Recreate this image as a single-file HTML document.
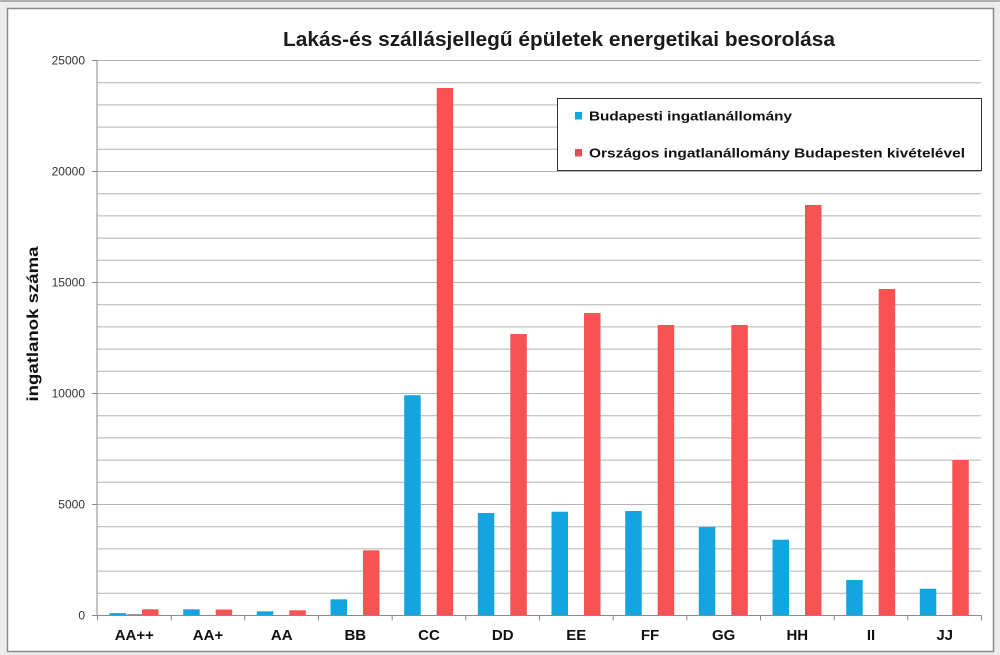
<!DOCTYPE html>
<html>
<head>
<meta charset="utf-8">
<style>
html,body{margin:0;padding:0;background:#fff;}
body{width:1000px;height:655px;overflow:hidden;}
svg{display:block;}
</style>
</head>
<body>
<svg width="1000" height="655" viewBox="0 0 1000 655" xmlns="http://www.w3.org/2000/svg">
  <!-- outer background -->
  <rect x="0" y="0" width="1000" height="655" fill="#ececec"/>
  <rect x="0" y="0" width="1000" height="2" fill="#b0b0b0"/>
  <!-- chart area -->
  <rect x="7.5" y="8.5" width="986" height="643" fill="#ffffff" stroke="#8a8a8a" stroke-width="1.5"/>

  <!-- title -->
  <text x="559" y="46" text-anchor="middle" font-family="'Liberation Sans', Arial, sans-serif" font-size="20" font-weight="bold" fill="#1a1a1a" textLength="552" lengthAdjust="spacingAndGlyphs">Lakás-és szállásjellegű épületek energetikai besorolása</text>

  <!-- gridlines -->
  <g stroke="#b4b4b4" stroke-width="1">
    <line x1="97" x2="981" y1="60.5" y2="60.5"/>
    <line x1="97" x2="981" y1="82.7" y2="82.7"/>
    <line x1="97" x2="981" y1="104.9" y2="104.9"/>
    <line x1="97" x2="981" y1="127.1" y2="127.1"/>
    <line x1="97" x2="981" y1="149.3" y2="149.3"/>
    <line x1="97" x2="981" y1="171.5" y2="171.5"/>
    <line x1="97" x2="981" y1="193.7" y2="193.7"/>
    <line x1="97" x2="981" y1="215.9" y2="215.9"/>
    <line x1="97" x2="981" y1="238.1" y2="238.1"/>
    <line x1="97" x2="981" y1="260.3" y2="260.3"/>
    <line x1="97" x2="981" y1="282.5" y2="282.5"/>
    <line x1="97" x2="981" y1="304.7" y2="304.7"/>
    <line x1="97" x2="981" y1="326.9" y2="326.9"/>
    <line x1="97" x2="981" y1="349.1" y2="349.1"/>
    <line x1="97" x2="981" y1="371.3" y2="371.3"/>
    <line x1="97" x2="981" y1="393.5" y2="393.5"/>
    <line x1="97" x2="981" y1="415.7" y2="415.7"/>
    <line x1="97" x2="981" y1="437.9" y2="437.9"/>
    <line x1="97" x2="981" y1="460.1" y2="460.1"/>
    <line x1="97" x2="981" y1="482.3" y2="482.3"/>
    <line x1="97" x2="981" y1="504.5" y2="504.5"/>
    <line x1="97" x2="981" y1="526.7" y2="526.7"/>
    <line x1="97" x2="981" y1="548.9" y2="548.9"/>
    <line x1="97" x2="981" y1="571.1" y2="571.1"/>
    <line x1="97" x2="981" y1="593.3" y2="593.3"/>
  </g>

  <!-- y ticks -->
  <g stroke="#8a8a8a" stroke-width="1">
    <line x1="92" x2="97" y1="60.5" y2="60.5"/>
    <line x1="92" x2="97" y1="171.5" y2="171.5"/>
    <line x1="92" x2="97" y1="282.5" y2="282.5"/>
    <line x1="92" x2="97" y1="393.5" y2="393.5"/>
    <line x1="92" x2="97" y1="504.5" y2="504.5"/>
    <line x1="92" x2="97" y1="615.5" y2="615.5"/>
  </g>
  <g font-family="'Liberation Sans', Arial, sans-serif" font-size="12" fill="#333" text-anchor="end">
    <text x="85" y="64.5">25000</text>
    <text x="85" y="175.5">20000</text>
    <text x="85" y="286.5">15000</text>
    <text x="85" y="397.5">10000</text>
    <text x="85" y="508.5">5000</text>
    <text x="85" y="619.5">0</text>
  </g>

  <!-- y axis title -->
  <text transform="translate(38,324) rotate(-90)" text-anchor="middle" font-family="'Liberation Sans', Arial, sans-serif" font-size="16" font-weight="bold" fill="#111" textLength="155" lengthAdjust="spacingAndGlyphs">ingatlanok száma</text>

  <!-- bars: blue -->
  <g fill="#14a4e0">
    <rect x="109.5" y="613.1" width="16.5" height="2.4"/>
    <rect x="183.2" y="609.3" width="16.5" height="6.2"/>
    <rect x="256.8" y="611.3" width="16.5" height="4.2"/>
    <rect x="330.5" y="599.3" width="16.5" height="16.2"/>
    <rect x="404.2" y="395.2" width="16.5" height="220.3"/>
    <rect x="477.8" y="513" width="16.5" height="102.5"/>
    <rect x="551.5" y="511.7" width="16.5" height="103.8"/>
    <rect x="625.2" y="511" width="16.5" height="104.5"/>
    <rect x="698.8" y="527" width="16.5" height="88.5"/>
    <rect x="772.5" y="539.7" width="16.5" height="75.8"/>
    <rect x="846.2" y="580" width="16.5" height="35.5"/>
    <rect x="919.8" y="588.7" width="16.5" height="26.8"/>
  </g>
  <!-- tiny middle mark in AA++ -->
  <rect x="126.5" y="614.3" width="16" height="1.2" fill="#8a6a6a"/>
  <!-- bars: red -->
  <g fill="#f85252">
    <rect x="142" y="609.3" width="16.5" height="6.2"/>
    <rect x="215.7" y="609.5" width="16.5" height="6"/>
    <rect x="289.3" y="610.3" width="16.5" height="5.2"/>
    <rect x="363" y="550.3" width="16.5" height="65.2"/>
    <rect x="436.7" y="88" width="16.5" height="527.5"/>
    <rect x="510.3" y="334" width="16.5" height="281.5"/>
    <rect x="584" y="313" width="16.5" height="302.5"/>
    <rect x="657.7" y="325" width="16.5" height="290.5"/>
    <rect x="731.3" y="325" width="16.5" height="290.5"/>
    <rect x="805" y="205" width="16.5" height="410.5"/>
    <rect x="878.7" y="289" width="16.5" height="326.5"/>
    <rect x="952.3" y="460" width="16.5" height="155.5"/>
  </g>

  <!-- axes -->
  <g stroke="#8a8a8a" stroke-width="1">
    <line x1="97" x2="97" y1="60" y2="615.5"/>
    <line x1="97" x2="981.5" y1="615.5" y2="615.5"/>
    <line x1="97.5" x2="97.5" y1="615.5" y2="620.5"/>
    <line x1="171.2" x2="171.2" y1="615.5" y2="620.5"/>
    <line x1="244.8" x2="244.8" y1="615.5" y2="620.5"/>
    <line x1="318.5" x2="318.5" y1="615.5" y2="620.5"/>
    <line x1="392.2" x2="392.2" y1="615.5" y2="620.5"/>
    <line x1="465.8" x2="465.8" y1="615.5" y2="620.5"/>
    <line x1="539.5" x2="539.5" y1="615.5" y2="620.5"/>
    <line x1="613.2" x2="613.2" y1="615.5" y2="620.5"/>
    <line x1="686.8" x2="686.8" y1="615.5" y2="620.5"/>
    <line x1="760.5" x2="760.5" y1="615.5" y2="620.5"/>
    <line x1="834.2" x2="834.2" y1="615.5" y2="620.5"/>
    <line x1="907.8" x2="907.8" y1="615.5" y2="620.5"/>
    <line x1="981.5" x2="981.5" y1="615.5" y2="620.5"/>
  </g>

  <!-- x labels -->
  <g font-family="'Liberation Sans', Arial, sans-serif" font-size="15" font-weight="bold" fill="#111" text-anchor="middle">
    <text x="134.3" y="640">AA++</text>
    <text x="208" y="640">AA+</text>
    <text x="281.7" y="640">AA</text>
    <text x="355.3" y="640">BB</text>
    <text x="429" y="640">CC</text>
    <text x="502.7" y="640">DD</text>
    <text x="576.3" y="640">EE</text>
    <text x="650" y="640">FF</text>
    <text x="723.7" y="640">GG</text>
    <text x="797.3" y="640">HH</text>
    <text x="871" y="640">II</text>
    <text x="944.7" y="640">JJ</text>
  </g>

  <!-- legend -->
  <rect x="557.5" y="98.5" width="424" height="72" fill="#ffffff" stroke="#333" stroke-width="1"/>
  <rect x="575" y="112" width="7" height="7.5" fill="#14a4e0"/>
  <rect x="575" y="149" width="7" height="7.5" fill="#e05050"/>
  <g font-family="'Liberation Sans', Arial, sans-serif" font-size="12.5" font-weight="bold" fill="#111">
    <text x="589" y="120.5" textLength="203" lengthAdjust="spacingAndGlyphs">Budapesti ingatlanállomány</text>
    <text x="589" y="157.5" textLength="376" lengthAdjust="spacingAndGlyphs">Országos ingatlanállomány Budapesten kivételével</text>
  </g>
</svg>
</body>
</html>
